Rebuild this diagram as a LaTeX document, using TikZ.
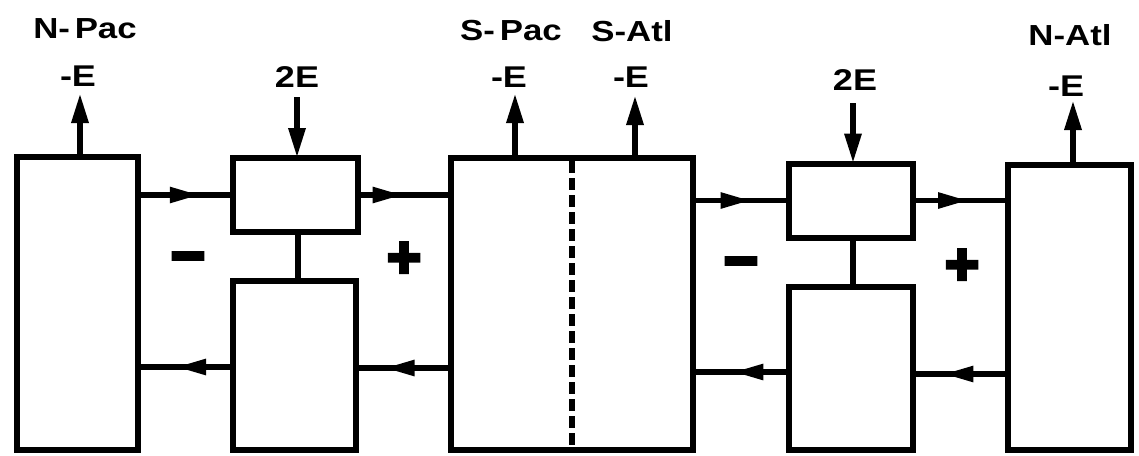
\documentclass[tikz,border=0pt]{standalone}
\usepackage{fontspec}
\setmainfont{Liberation Sans}[FakeStretch=1.2]
\newfontfamily\signfont{Liberation Sans Bold}[FakeBold=6]
\usetikzlibrary{arrows.meta,decorations.markings,calc}
\begin{document}
\begin{tikzpicture}[x=1pt,y=-1pt,
  box/.style={draw=black,line width=6pt,inner sep=0pt,outer sep=0pt},
  lbl/.style={inner sep=0pt,font=\fontsize{30}{30}\selectfont\bfseries},
  ttl/.style={inner sep=0pt,font=\fontsize{29}{29}\selectfont\bfseries},
  sgn/.style={inner sep=0pt,font=\fontsize{58}{58}\signfont},
  varrow/.style={line width=6pt,-{Triangle[length=30pt,width=16pt]}},
  flow/.style={line width=5.5pt,postaction={decorate},
    decoration={markings,mark=at position #1 with {\arrow{Triangle[length=30pt,width=15pt]}}}},
  link/.style={line width=5.5pt}
]
\useasboundingbox (0,0) rectangle (1139,455);
% boxes
\node[box,minimum width=121pt,minimum height=293pt] (np) at (77.5,303.5) {};
\node[box,minimum width=125pt,minimum height=74pt] (b2t) at (295.5,195) {};
\node[box,minimum width=123pt,minimum height=169pt] (b2b) at (294.5,365.5) {};
\node[box,minimum width=242pt,minimum height=292pt] (c) at (572,304) {};
\node[box,minimum width=124pt,minimum height=74pt] (b4t) at (851,200.5) {};
\node[box,minimum width=124pt,minimum height=163pt] (b4b) at (851,368.5) {};
\node[box,minimum width=123pt,minimum height=285pt] (na) at (1069.5,307.5) {};
% dashed divider
\coordinate (dtop) at (572,161);
\coordinate (dbot) at (572,450);
\draw[line width=5.5pt,dash pattern=on 12pt off 5pt] (dtop) -- (dbot);
% titles
\node[ttl] (tnp) at (85,29) {N-\,Pac};
\node[ttl] (tsp) at (511,31) {S-\,Pac};
\node[ttl] (tsa) at (632,31) {S-Atl};
\node[ttl] (tna) at (1070,35) {N-Atl};
% E labels
\node[lbl] (enp) at (78,76) {-E};
\node[lbl] (e2l) at (297,77) {2E};
\node[lbl] (esp) at (509,77) {-E};
\node[lbl] (esa) at (631,77) {-E};
\node[lbl] (e2r) at (855,80) {2E};
\node[lbl] (ena) at (1066,86) {-E};
% vertical arrows
\coordinate (anp) at (80,93);
\coordinate (asp) at (515,93);
\coordinate (asa) at (635,95);
\coordinate (ana) at (1073,100);
\coordinate (s2l) at (297,97);
\coordinate (s2r) at (853,103);
\draw[varrow] (np.north -| anp) -- (anp);
\draw[varrow] (c.north -| asp) -- (asp);
\draw[varrow] (c.north -| asa) -- (asa);
\draw[varrow] (na.north -| ana) -- (ana);
\draw[varrow] (s2l) -- (b2t.north -| s2l);
\draw[varrow] (s2r) -- (b4t.north -| s2r);
% links between upper and lower boxes
\draw[link] (b2t.south -| 298,0) -- (b2b.north -| 298,0);
\draw[link] (b4t.south -| 853,0) -- (b4b.north -| 853,0);
% upper flows (to the right)
\draw[flow=0.65] (np.east |- b2t.west) -- (b2t.west);
\draw[flow=0.48] (b2t.east) -- (c.west |- b2t.east);
\draw[flow=0.6] (c.east |- b4t.west) -- (b4t.west);
\draw[flow=0.58] (b4t.east) -- (na.west |- b4t.east);
% lower flows (to the left)
\draw[flow=0.6] (b2b.west |- 0,367) -- (np.east |- 0,367);
\draw[flow=0.7] (c.west |- 0,368) -- (b2b.east |- 0,368);
\draw[flow=0.58] (b4b.west |- 0,372) -- (c.east |- 0,372);
\draw[flow=0.68] (na.west |- 0,374) -- (b4b.east |- 0,374);
% signs
\node[sgn] (m1) at (188,264) {−};
\node[sgn] (p1) at (404,260) {+};
\node[sgn] (m2) at (741,269) {−};
\node[sgn] (p2) at (962,267) {+};
\end{tikzpicture}
\end{document}
